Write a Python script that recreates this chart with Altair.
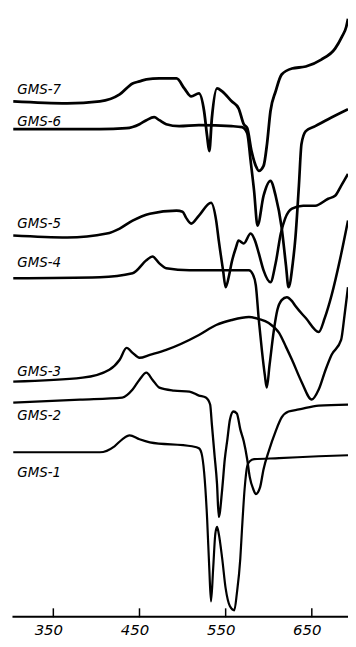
import altair as alt
import pandas as pd

# ---- data (temperature in deg C, signal in arbitrary units) ----
series_names = ["GMS-7", "GMS-6", "GMS-5", "GMS-4", "GMS-3", "GMS-2", "GMS-1"]

gms7_t = [303.5, 366, 404, 427, 442, 450, 458, 473, 493, 502, 510, 519, 525, 528.5, 531, 534, 540, 546, 557, 565,
          571, 575, 580, 585, 588.5, 594, 598, 602, 608, 615, 627, 643, 661, 677, 685, 690, 692]
gms7_s = [518, 516, 518, 525, 536, 538, 540, 541, 541, 531, 523, 526, 508, 483, 468, 501, 531, 528, 518, 511,
          495, 491, 468, 453, 448, 453, 475, 508, 528, 545, 551, 553, 560, 571, 583, 593, 601]

gms6_t = [303.5, 366, 404, 435, 450, 458, 467, 473, 481, 496, 519, 557, 569, 575, 579, 583, 587, 594, 602, 608,
          615, 620, 623, 628, 631, 635, 638, 643, 654, 669, 692]
gms6_s = [490, 490, 490, 491, 495, 499, 502, 499, 495, 493, 494, 493, 492, 486, 458, 428, 393, 423, 438, 423,
          391, 353, 331, 356, 381, 433, 475, 488, 493, 500, 510]

gms5_t = [303.5, 366, 412, 427, 442, 462, 493, 500, 504, 510, 519, 533, 539, 542, 547, 550, 554, 557, 562, 565,
          571, 579, 584, 588.5, 594, 602, 608, 614, 619, 627, 640, 654, 669, 677, 684, 692]
gms5_s = [383, 381, 385, 390, 398, 405, 408, 407, 401, 395, 403, 416, 398, 378, 348, 331, 343, 356, 371, 378,
          375, 385, 378, 365, 348, 336, 355, 385, 400, 410, 413, 413, 420, 423, 433, 445]

gms4_t = [303.5, 404, 442, 458, 465, 473, 481, 508, 542, 577, 581.5, 585, 588.5, 592, 595.4, 597.7, 601, 606, 610,
          615, 621, 627, 631, 643, 658, 665, 673, 683, 692]
gms4_s = [340, 341, 345, 358, 362, 355, 350, 348, 348, 348, 344, 333, 298, 268, 243, 230, 253, 288, 308,
          318, 321, 317, 312, 300, 286, 300, 323, 360, 398]

gms3_t = [303.5, 384, 415, 427, 435, 442, 450, 462, 481, 519, 539, 557, 577, 588.5, 600, 612, 620, 627, 638, 650,
          658, 666, 673, 684, 688, 692]
gms3_s = [236, 240, 248, 258, 270, 265, 260, 263, 268, 283, 293, 298, 301, 299, 295, 285, 271, 258, 236, 218,
          228, 248, 263, 278, 303, 331]

gms2_t = [303.5, 381, 430, 442, 450, 458, 465, 473, 490, 508, 519, 527, 532, 534, 537, 540, 542, 546, 549, 552,
          555, 559, 563, 567, 571, 575, 578, 582, 585, 590, 594, 600, 608, 615, 623, 635, 658, 692]
gms2_s = [215, 218, 220, 228, 238, 245, 238, 230, 227, 226, 222, 220, 213, 193, 163, 133, 100, 128, 158, 178,
          198, 206, 204, 188, 176, 158, 140, 128, 123, 130, 148, 166, 186, 200, 206, 208, 212, 213]

gms1_t = [303.5, 404, 421, 430, 438.5, 450, 462, 511, 519, 522, 525, 528.5, 531, 533, 535.5, 538, 540, 542, 546,
          550, 555, 560, 563, 567, 569, 572, 575, 578, 583, 612, 658, 692]
gms1_s = [165, 165, 171, 178, 182, 178, 175, 171, 169, 164, 145, 98, 48, 15, 48, 83, 90, 83, 58,
          28, 10, 6, 23, 58, 88, 128, 151, 156, 158, 159, 161, 162]

tick_values = [350, 450, 550, 650]

# ---- build table ----
all_t = [gms7_t, gms6_t, gms5_t, gms4_t, gms3_t, gms2_t, gms1_t]
all_s = [gms7_s, gms6_s, gms5_s, gms4_s, gms3_s, gms2_s, gms1_s]
rows = []
for name, ts, ss in zip(series_names, all_t, all_s):
    for t, s in zip(ts, ss):
        rows.append({"series": name, "temp": t, "signal": s})
df = pd.DataFrame(rows)

label_df = pd.DataFrame({
    "series": series_names,
    "temp": [ts[0] for ts in all_t],
    "signal": [ss[0] for ss in all_s],
})
ticks_df = pd.DataFrame({"tick": tick_values})

# styles
widths = [2.8, 2.2, 2.1, 2.5, 1.8, 2.5, 1.5]
label_dy = [-11, -7, -12, -15, -10, 14, 21]

x_scale = alt.Scale(domain=[302, 692], nice=False, zero=False)
y_scale = alt.Scale(domain=[0, 610], nice=False, zero=False)

lines = alt.Chart(df).mark_line(interpolate="monotone", color="black", clip=True).encode(
    x=alt.X("temp:Q", scale=x_scale, title=None,
            axis=alt.Axis(values=tick_values, ticks=False, grid=False, domain=True,
                          domainColor="black", domainWidth=2, labelFont="DejaVu Sans",
                          labelFontStyle="italic", labelFontSize=15, labelColor="black",
                          labelPadding=6, labelOffset=-5, labelFlush=False)),
    y=alt.Y("signal:Q", scale=y_scale, axis=None),
    detail="series:N",
    strokeWidth=alt.StrokeWidth("series:N", scale=alt.Scale(domain=series_names, range=widths), legend=None),
    order="temp:Q",
)

tick_marks = alt.Chart(ticks_df).mark_rule(color="black", strokeWidth=1.5).encode(
    x=alt.X("tick:Q", scale=x_scale),
    y=alt.value(602),
    y2=alt.value(611),
)

label_layers = []
for name, dy in zip(series_names, label_dy):
    label_layers.append(
        alt.Chart(label_df).transform_filter(alt.datum.series == name).mark_text(
            align="left", baseline="middle", dx=4, dy=dy, font="DejaVu Sans",
            fontStyle="italic", fontSize=13.5, color="black"
        ).encode(
            x=alt.X("temp:Q", scale=x_scale),
            y=alt.Y("signal:Q", scale=y_scale),
            text="series:N",
        )
    )

chart = alt.layer(lines, tick_marks, *label_layers).properties(
    width=338, height=610,
    padding={"left": 4, "top": 0, "right": 0, "bottom": 21},
    autosize=alt.AutoSizeParams(type="none"),
    background="white",
).configure_view(strokeWidth=0)

chart.save("out.html", embed_options={"renderer": "svg", "actions": False})
